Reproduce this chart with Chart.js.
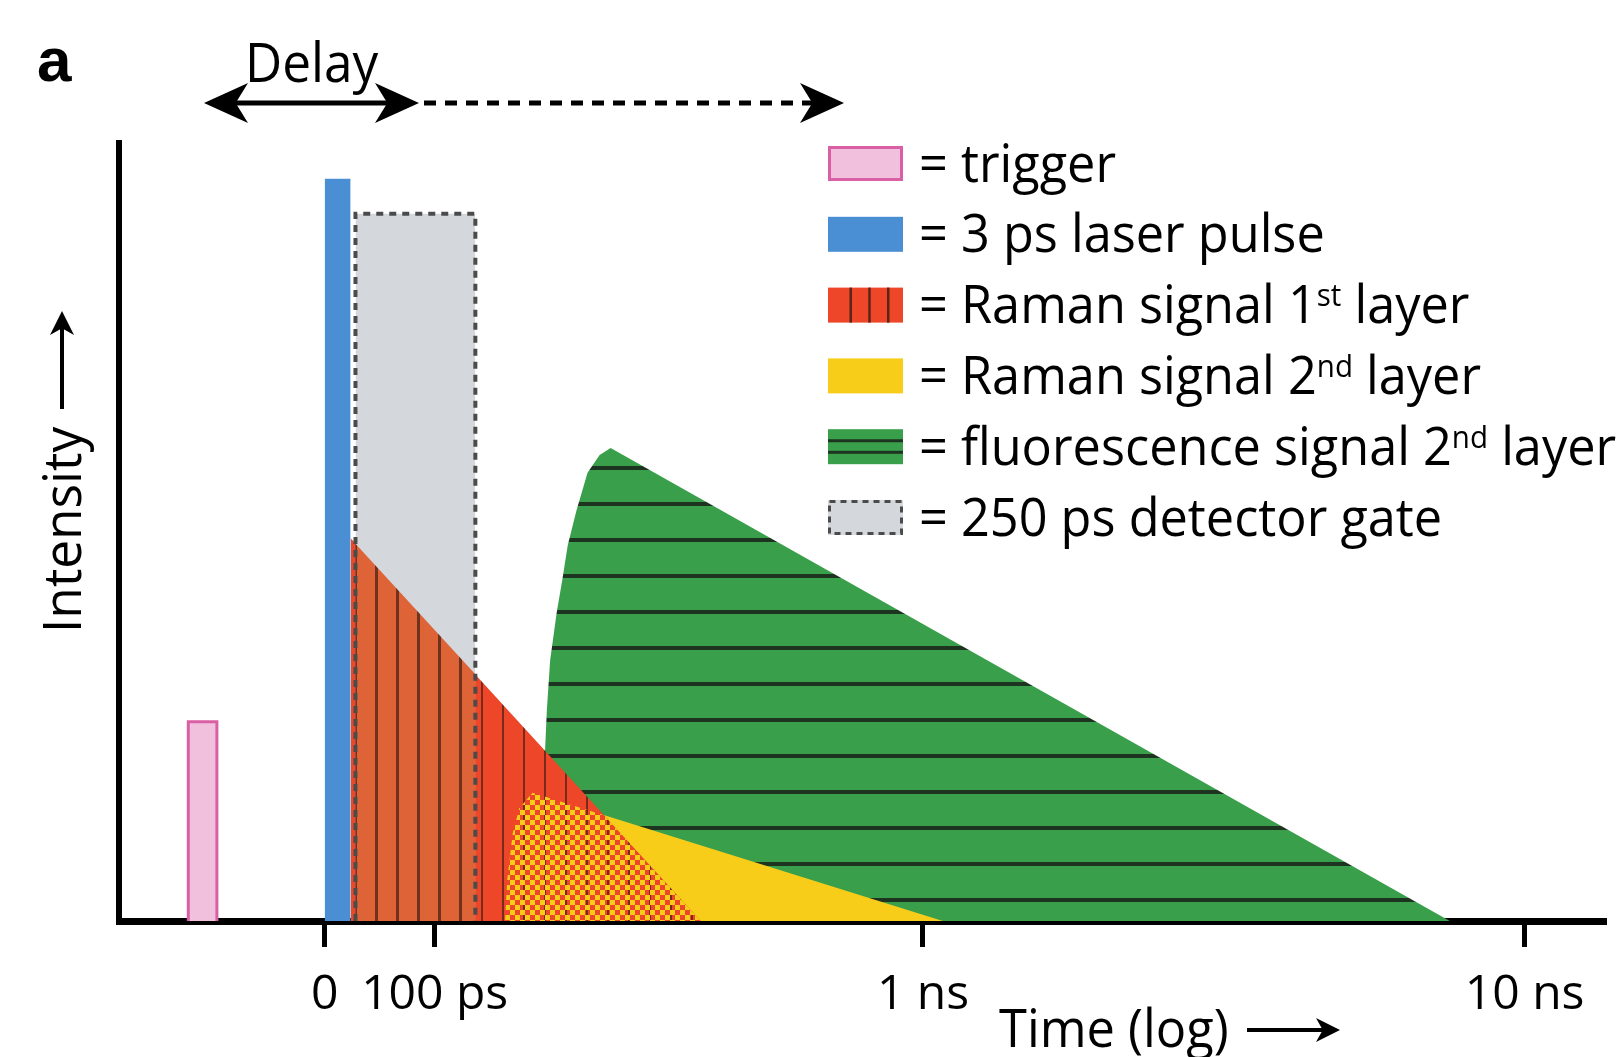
<!DOCTYPE html>
<html>
<head>
<meta charset="utf-8">
<script src="https://cdn.jsdelivr.net/npm/chart.js@4.4.1/dist/chart.umd.min.js"></script>
<style>
  html, body { margin: 0; padding: 0; background: #fff; }
  #wrap { position: relative; width: 1623px; height: 1057px; }
</style>
</head>
<body>
<div id="wrap"><canvas id="chart"></canvas></div>
<script>
// x is in schematic units along the log time axis: 0 = time zero, 1 = 100 ps
var TICK_VALUES = [0, 1, 5.44, 10.91];
var TICK_LABELS = ['0', '100 ps', '1 ns', '10 ns'];
var X_MIN = -1.87, X_MAX = 11.65;
var Y_MIN = 0, Y_MAX = 100;

// outlines of each signal as [x, intensity]
var TRIGGER = [[-1.24, 0], [-1.24, 25.6], [-0.98, 25.6], [-0.98, 0]];
var LASER = [[0, 0], [0, 95.4], [0.236, 95.4], [0.236, 0]];
var GATE = [[0.28, 0], [0.28, 90.9], [1.37, 90.9], [1.37, 0]];
var RAMAN_1 = [[0.236, 0], [0.236, 49.2], [3.42, 0]];
var RAMAN_1_GATED = [[0.28, 0], [0.28, 48.5], [1.37, 31.7], [1.37, 0]];
var RAMAN_2 = [[1.64, 0], [1.66, 5.3], [1.71, 11.3], [1.77, 14.5], [1.89, 16.5], [5.62, 0]];
var OVERLAP = [[1.64, 0], [1.66, 5.3], [1.71, 11.3], [1.77, 14.5], [1.89, 16.5], [2.54, 13.6], [3.42, 0]];
var FLUOR = [[1.96, 0], [1.98, 11.7], [2.0, 20.7], [2.02, 27.1], [2.05, 33.5], [2.11, 39.7],
             [2.16, 43.8], [2.21, 48.3], [2.29, 52.8], [2.39, 57.6], [2.5, 59.9], [2.6, 60.8],
             [10.23, 0]];

var LEGEND_LABELS = [
  ['= trigger'],
  ['= 3 ps laser pulse'],
  ['= Raman signal 1', 'st', ' layer'],
  ['= Raman signal 2', 'nd', ' layer'],
  ['= fluorescence signal 2', 'nd', ' layer'],
  ['= 250 ps detector gate']
];
var LEGEND_KEYS = ['trigger', 'laser', 'raman1', 'raman2', 'fluor', 'gate'];

var FONT = "'Open Sans', 'DejaVu Sans', sans-serif";
var RED = '#ed4628', RED_GATED = '#de6437', YELLOW = '#f7cd1a', GREEN = '#3a9f4a', BLUE = '#4a8ed4';
var PINK = '#f1c0dc', PINK_EDGE = '#d960a4', GATE_FILL = '#d4d8dc', GATE_EDGE = '#4b4b4b';

function pts(arr) {
  return arr.map(function (p) { return { x: p[0], y: p[1] }; });
}

function makePattern(w, h, paint) {
  var c = document.createElement('canvas');
  c.width = w; c.height = h;
  var g = c.getContext('2d');
  paint(g, w, h);
  return g.createPattern(c, 'repeat');
}

var PAT_RED = makePattern(21, 8, function (g, w, h) {
  g.fillStyle = RED; g.fillRect(0, 0, w, h);
  g.fillStyle = '#7a2a1a'; g.fillRect(19, 0, 2, h);
});
var PAT_RED_GATED = makePattern(21, 8, function (g, w, h) {
  g.fillStyle = RED_GATED; g.fillRect(0, 0, w, h);
  g.fillStyle = '#6e321e'; g.fillRect(18, 0, 3, h);
});
var PAT_GREEN = makePattern(8, 36, function (g, w, h) {
  g.fillStyle = GREEN; g.fillRect(0, 0, w, h);
  g.fillStyle = '#1d3520'; g.fillRect(0, 0, w, 2); g.fillRect(0, 34, w, 2);
});
var PAT_CHECK = makePattern(10, 10, function (g) {
  g.fillStyle = YELLOW; g.fillRect(0, 0, 5, 5); g.fillRect(5, 5, 5, 5);
});

function area(label, data, fill, extra) {
  var ds = {
    label: label,
    data: pts(data),
    backgroundColor: fill,
    borderColor: 'rgba(0,0,0,0)',
    borderWidth: 0,
    fill: 'origin',
    pointRadius: 0,
    pointHoverRadius: 0,
    tension: 0
  };
  for (var k in (extra || {})) ds[k] = extra[k];
  return ds;
}

function drawParts(ctx, parts, x, y, size, sx) {
  ctx.save();
  ctx.translate(x, y);
  ctx.scale(sx, 1);
  ctx.textAlign = 'left';
  ctx.textBaseline = 'alphabetic';
  var cx = 0;
  parts.forEach(function (p, i) {
    var sup = i % 2 === 1;
    ctx.font = (sup ? Math.round(size * 0.58) : size) + 'px ' + FONT;
    ctx.fillText(p, cx, sup ? -size * 0.32 : 0);
    cx += ctx.measureText(p).width;
  });
  ctx.restore();
}

// barbed arrow head, tip at (x, y), pointing along angle a
function head(ctx, x, y, a, len, hw) {
  ctx.save();
  ctx.translate(x, y);
  ctx.rotate(a);
  ctx.beginPath();
  ctx.moveTo(0, 0);
  ctx.lineTo(-len, -hw);
  ctx.lineTo(-len * 0.72, 0);
  ctx.lineTo(-len, hw);
  ctx.closePath();
  ctx.fill();
  ctx.restore();
}

function swatch(ctx, key, x, y, w, h) {
  ctx.save();
  if (key === 'trigger') {
    ctx.fillStyle = PINK; ctx.fillRect(x, y, w, h);
    ctx.strokeStyle = PINK_EDGE; ctx.lineWidth = 3; ctx.strokeRect(x + 1.5, y + 1.5, w - 3, h - 3);
  } else if (key === 'laser') {
    ctx.fillStyle = BLUE; ctx.fillRect(x, y, w, h);
  } else if (key === 'raman1') {
    ctx.fillStyle = RED; ctx.fillRect(x, y, w, h);
    ctx.fillStyle = '#5a2418';
    [0.3, 0.55, 0.8].forEach(function (f) { ctx.fillRect(x + w * f - 1, y, 2.5, h); });
  } else if (key === 'raman2') {
    ctx.fillStyle = YELLOW; ctx.fillRect(x, y, w, h);
  } else if (key === 'fluor') {
    ctx.fillStyle = GREEN; ctx.fillRect(x, y, w, h);
    ctx.fillStyle = '#1d3520';
    [0.33, 0.66].forEach(function (f) { ctx.fillRect(x, y + h * f - 1.5, w, 3); });
  } else if (key === 'gate') {
    ctx.fillStyle = GATE_FILL; ctx.fillRect(x, y, w, h);
    ctx.strokeStyle = GATE_EDGE; ctx.lineWidth = 3; ctx.setLineDash([6, 5]);
    ctx.strokeRect(x + 1.5, y + 1.5, w - 3, h - 3);
  }
  ctx.restore();
}

var annotations = {
  id: 'annotations',
  afterDraw: function (chart) {
    var ctx = chart.ctx;
    ctx.save();
    ctx.fillStyle = '#000';
    ctx.strokeStyle = '#000';

    // panel letter
    ctx.font = 'bold 62px "Liberation Sans", Arial, sans-serif';
    ctx.textBaseline = 'alphabetic';
    ctx.fillText('a', 37, 81);

    // delay arrows
    drawParts(ctx, ['Delay'], 245, 82, 54, 0.95);
    ctx.lineWidth = 5;
    ctx.beginPath(); ctx.moveTo(225, 103); ctx.lineTo(400, 103); ctx.stroke();
    head(ctx, 204, 103, Math.PI, 44, 20);
    head(ctx, 419, 103, 0, 44, 20);
    ctx.setLineDash([12, 9]);
    ctx.beginPath(); ctx.moveTo(424, 103); ctx.lineTo(820, 103); ctx.stroke();
    ctx.setLineDash([]);
    head(ctx, 844, 103, 0, 44, 20);

    // y axis title
    ctx.save();
    ctx.translate(81, 633);
    ctx.rotate(-Math.PI / 2);
    drawParts(ctx, ['Intensity'], 0, 0, 53, 0.97);
    ctx.restore();
    ctx.lineWidth = 4;
    ctx.beginPath(); ctx.moveTo(62, 409); ctx.lineTo(62, 325); ctx.stroke();
    head(ctx, 62, 311, -Math.PI / 2, 24, 12);

    // x axis title
    drawParts(ctx, ['Time (log)'], 999, 1047, 53, 0.955);
    ctx.beginPath(); ctx.moveTo(1247, 1030); ctx.lineTo(1326, 1030); ctx.stroke();
    head(ctx, 1340, 1030, 0, 24, 12);

    // legend
    LEGEND_LABELS.forEach(function (parts, i) {
      var top = 146 + i * 70.8;
      swatch(ctx, LEGEND_KEYS[i], 828, top, 75, 35);
      ctx.fillStyle = '#000';
      drawParts(ctx, parts, 919, top + 17.5 + 18, 53, 0.952);
    });
    ctx.restore();
  }
};

// first dataset is drawn on top
new Chart(document.getElementById('chart'), {
  type: 'line',
  data: {
    datasets: [
      area('trigger', TRIGGER, PINK, { borderColor: PINK_EDGE, borderWidth: 3 }),
      area('3 ps laser pulse', LASER, BLUE),
      area('250 ps detector gate (edge)', GATE, 'rgba(0,0,0,0)',
        { fill: false, borderColor: GATE_EDGE, borderWidth: 4, borderDash: [7, 6] }),
      area('Raman signal 1st layer (gated)', RAMAN_1_GATED, PAT_RED_GATED),
      area('250 ps detector gate', GATE, GATE_FILL),
      area('Raman overlap', OVERLAP, PAT_CHECK),
      area('Raman signal 1st layer', RAMAN_1, PAT_RED),
      area('Raman signal 2nd layer', RAMAN_2, YELLOW),
      area('fluorescence signal 2nd layer', FLUOR, PAT_GREEN)
    ]
  },
  options: {
    responsive: true,
    maintainAspectRatio: false,
    animation: false,
    events: [],
    layout: { padding: { top: 143, right: 17, left: 0, bottom: 0 } },
    plugins: {
      legend: { display: false },
      tooltip: { enabled: false }
    },
    scales: {
      x: {
        type: 'linear',
        min: X_MIN,
        max: X_MAX,
        afterBuildTicks: function (scale) {
          scale.ticks = TICK_VALUES.map(function (v) { return { value: v }; });
        },
        afterFit: function (scale) { scale.height = 136; },
        border: { display: true, color: '#000', width: 7 },
        grid: {
          display: true,
          drawOnChartArea: false,
          drawTicks: true,
          tickLength: 26,
          tickWidth: 5,
          tickColor: '#000',
          color: 'rgba(0,0,0,0)'
        },
        ticks: {
          autoSkip: false,
          maxRotation: 0,
          padding: 20,
          color: '#000',
          font: { family: FONT, size: 48 },
          callback: function (value, index) { return TICK_LABELS[index]; }
        }
      },
      y: {
        type: 'linear',
        min: Y_MIN,
        max: Y_MAX,
        afterFit: function (scale) { scale.width = 119; },
        border: { display: true, color: '#000', width: 6 },
        grid: { display: false },
        ticks: { display: false }
      }
    }
  },
  plugins: [annotations]
});
</script>
</body>
</html>
